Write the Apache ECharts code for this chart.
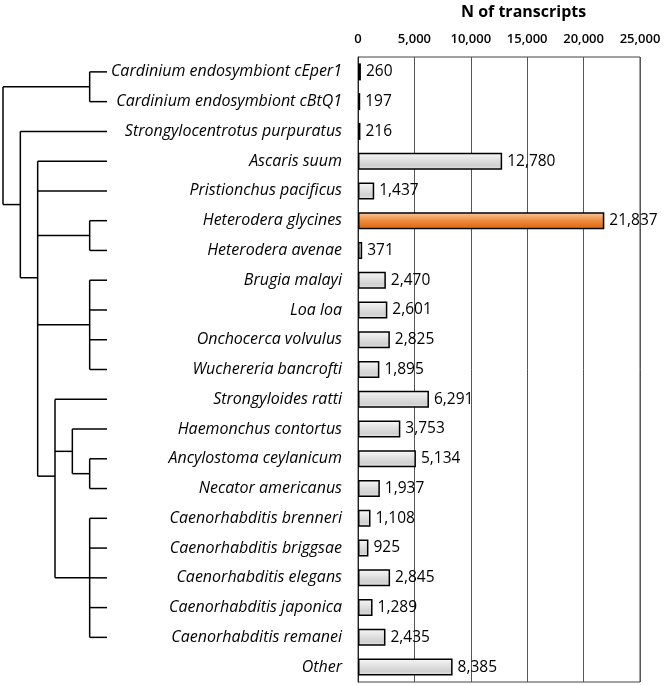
<!DOCTYPE html>
<html style="height: 100%">

<head>
  <meta charset="utf-8">
  <script type="text/javascript" src="https://cdn.jsdelivr.net/npm/echarts@6/dist/echarts.min.js"></script>
</head>

<body style="height: 100%; margin: 0; background: #fff">
  <div id="container" style="width: 664px; height: 685px"></div>
  <script type="text/javascript">
    var species = [
      'Cardinium endosymbiont cEper1', 'Cardinium endosymbiont cBtQ1', 'Strongylocentrotus purpuratus',
      'Ascaris suum', 'Pristionchus pacificus', 'Heterodera glycines', 'Heterodera avenae',
      'Brugia malayi', 'Loa loa', 'Onchocerca volvulus', 'Wuchereria bancrofti',
      'Strongyloides ratti', 'Haemonchus contortus', 'Ancylostoma ceylanicum', 'Necator americanus',
      'Caenorhabditis brenneri', 'Caenorhabditis briggsae', 'Caenorhabditis elegans',
      'Caenorhabditis japonica', 'Caenorhabditis remanei', 'Other'
    ];
    var transcripts = [260, 197, 216, 12780, 1437, 21837, 371, 2470, 2601, 2825, 1895,
      6291, 3753, 5134, 1937, 1108, 925, 2845, 1289, 2435, 8385];
    var highlight = 'Heterodera glycines';

    // tree topology, leaves are indexes into species
    var tree = [[0, 1], [2, [3, 4, [5, 6], [7, 8, 9, 10], [11, [12, [13, 14]], [15, 16, 17, 18, 19]]]]];

    function height(n) {
      if (typeof n === 'number') return 0;
      return 1 + Math.max.apply(null, n.map(height));
    }
    var maxH = height(tree);
    var segments = [];

    // returns [x, y] of node; pushes segments [x1, y1, x2, y2]
    function layout(n) {
      if (typeof n === 'number') return [maxH, n];
      var x = maxH - height(n);
      var kids = n.map(layout);
      var ys = kids.map(function(k) { return k[1]; });
      segments.push([x, Math.min.apply(null, ys), x, Math.max.apply(null, ys)]);
      kids.forEach(function(k) { segments.push([x, k[1], k[0], k[1]]); });
      return [x, ys.reduce(function(a, b) { return a + b; }, 0) / ys.length];
    }
    layout(tree);

    var fmt = function(v) { return echarts.format.addCommas(v); };
    var grayBar = new echarts.graphic.LinearGradient(0, 0, 0, 1, [
      { offset: 0, color: '#f8f8f8' }, { offset: 0.75, color: '#d0d0d0' }, { offset: 1, color: '#e6e6e6' }
    ]);
    var orangeBar = new echarts.graphic.LinearGradient(0, 0, 0, 1, [
      { offset: 0, color: '#f9cba3' }, { offset: 0.5, color: '#ee8b3c' }, { offset: 0.85, color: '#e06f1c' }, { offset: 1, color: '#f0a263' }
    ]);

    var myChart = echarts.init(document.getElementById('container'));
    var option = {
      animation: false,
      textStyle: { fontFamily: 'Open Sans' },
      title: {
        text: 'N of transcripts',
        left: 456,
        top: -1,
        textStyle: { fontSize: 16, fontWeight: 'bold', color: '#000', fontFamily: 'Open Sans' }
      },
      grid: [
        { left: 358, right: 24, top: 57, bottom: 3, show: true, borderColor: '#444', borderWidth: 1 },
        { left: 3, width: 104, top: 57, bottom: 3 }
      ],
      xAxis: [{
        type: 'value',
        position: 'top',
        min: 0,
        max: 25000,
        interval: 5000,
        axisLine: { show: false },
        axisTick: { show: false },
        axisLabel: { fontSize: 13, color: '#000', fontWeight: 600, margin: 11, formatter: fmt },
        splitLine: { lineStyle: { color: '#555', width: 1 } }
      }, {
        type: 'value',
        gridIndex: 1,
        min: 0,
        max: maxH,
        show: false
      }],
      yAxis: [{
        type: 'category',
        data: species,
        inverse: true,
        axisLine: { lineStyle: { color: '#222' } },
        axisTick: { show: false },
        axisLabel: { fontSize: 16, fontStyle: 'italic', color: '#000', margin: 16 }
      }, {
        type: 'value',
        gridIndex: 1,
        min: -0.5,
        max: species.length - 0.5,
        inverse: true,
        show: false
      }],
      series: [{
        type: 'bar',
        data: transcripts.map(function(v, i) {
          return {
            value: v,
            itemStyle: { color: species[i] === highlight ? orangeBar : grayBar }
          };
        }),
        barWidth: 17,
        itemStyle: { borderColor: '#000', borderWidth: 1.5 },
        label: {
          show: true,
          position: 'right',
          distance: 5,
          fontSize: 15.5,
          color: '#000',
          formatter: function(p) { return fmt(p.value); }
        }
      }, {
        type: 'custom',
        xAxisIndex: 1,
        yAxisIndex: 1,
        data: segments,
        renderItem: function(params, api) {
          var a = api.coord([api.value(0), api.value(1)]);
          var b = api.coord([api.value(2), api.value(3)]);
          return {
            type: 'line',
            shape: { x1: a[0], y1: a[1], x2: b[0], y2: b[1] },
            style: { stroke: '#000', lineWidth: 1.5 }
          };
        }
      }]
    };
    myChart.setOption(option);
  </script>
</body>

</html>
